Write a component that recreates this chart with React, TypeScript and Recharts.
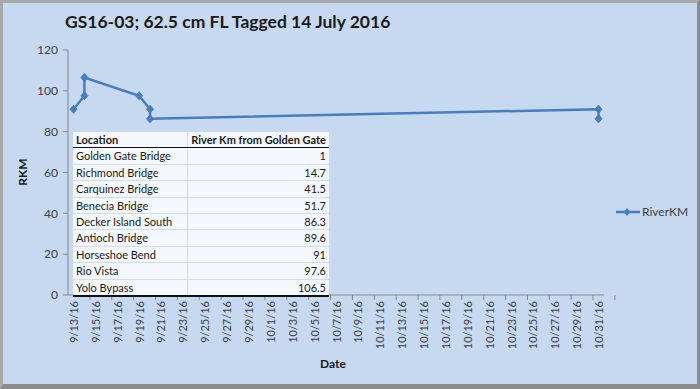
import React from 'react';
import { LineChart, Line, XAxis, YAxis } from 'recharts';

const dates = ['9/13/16', '9/14/16', '9/14/16', '9/19/16', '9/20/16', '9/20/16', '10/31/16', '10/31/16'];
const riverKm = [91, 97.6, 106.5, 97.6, 91, 86.3, 91, 86.3];

const tickLabels = [
  '9/13/16', '9/15/16', '9/17/16', '9/19/16', '9/21/16', '9/23/16', '9/25/16', '9/27/16',
  '9/29/16', '10/1/16', '10/3/16', '10/5/16', '10/7/16', '10/9/16', '10/11/16', '10/13/16',
  '10/15/16', '10/17/16', '10/19/16', '10/21/16', '10/23/16', '10/25/16', '10/27/16',
  '10/29/16', '10/31/16',
];

const locations = [
  'Golden Gate Bridge', 'Richmond Bridge', 'Carquinez Bridge', 'Benecia Bridge',
  'Decker Island South', 'Antioch Bridge', 'Horseshoe Bend', 'Rio Vista', 'Yolo Bypass',
];
const locationKm = ['1', '14.7', '41.5', '51.7', '86.3', '89.6', '91', '97.6', '106.5'];

const yTicks = [0, 20, 40, 60, 80, 100, 120];

const toDay = (s: string) => {
  const [m, d, y] = s.split('/').map(Number);
  const start = Date.UTC(2016, 8, 13);
  return Math.round((Date.UTC(2000 + y, m - 1, d) - start) / 86400000);
};

const data = dates.map((d, i) => ({ day: toDay(d), RiverKM: riverKm[i] }));
const labelDays = tickLabels.map(toDay);
const lastDay = labelDays[labelDays.length - 1];
const markDays: number[] = [];
for (let k = 1; k <= labelDays.length; k++) markDays.push(-0.5 + 2 * k);
const allTicks = [...labelDays, ...markDays].sort((a, b) => a - b);

const BLUE = '#4a7ebb';
const FONT = 'Lato, "Open Sans", sans-serif';

const Diamond = (props: any) => {
  const { cx, cy } = props;
  if (cx == null || cy == null) return null;
  return <polygon points={`${cx},${cy - 4} ${cx + 3.5},${cy} ${cx},${cy + 4} ${cx - 3.5},${cy}`} fill={BLUE} stroke={BLUE} />;
};

const DateTick = (props: any) => {
  const { x, y, payload } = props;
  const v = payload.value;
  const idx = labelDays.indexOf(v);
  if (idx < 0) {
    return <line x1={x} x2={x} y1={y} y2={y + 5} stroke="#868686" />;
  }
  return (
    <text
      x={x}
      y={y + 6}
      transform={`rotate(-90, ${x}, ${y + 6})`}
      textAnchor="end"
      dominantBaseline="central"
      fontSize={11}
      fontFamily={FONT}
      fill="#404040"
    >
      {tickLabels[idx]}
    </text>
  );
};

const cell: React.CSSProperties = {
  padding: '0 3px',
  height: 15.4,
  lineHeight: '15.4px',
  borderBottom: '1px solid #d0dcea',
  whiteSpace: 'nowrap',
};

export default function App() {
  return (
    <div
      style={{
        position: 'fixed',
        left: 0,
        top: 0,
        width: 700,
        height: 389,
        boxSizing: 'border-box',
        background: '#c6d9f0',
        borderLeft: '3px solid #a9a9a9',
        borderTop: '3px solid #a9a9a9',
        borderRight: '3px solid #8c8c8c',
        borderBottom: '5px solid #8c8c8c',
        overflow: 'hidden',
      }}
    >
      <div style={{ position: 'absolute', left: -3, top: -3 }}>
        <LineChart width={700} height={389} data={data} margin={{ top: 50, right: 96, bottom: 34, left: 0 }}>
          <XAxis
            dataKey="day"
            type="number"
            domain={[-0.5, lastDay + 0.5]}
            ticks={allTicks}
            interval={0}
            tickLine={false}
            tickSize={0}
            tickMargin={0}
            tick={<DateTick />}
            height={60}
            stroke="#868686"
            allowDataOverflow
          />
          <YAxis
            type="number"
            domain={[0, 120]}
            ticks={yTicks}
            width={68}
            tickSize={5}
            tickMargin={5}
            stroke="#868686"
            tick={{ fill: '#404040', fontSize: 12, fontFamily: FONT }}
          />
          <Line
            type="linear"
            dataKey="RiverKM"
            stroke={BLUE}
            strokeWidth={2.5}
            dot={<Diamond />}
            isAnimationActive={false}
          />
        </LineChart>
      </div>
      <div
        style={{
          position: 'absolute',
          left: 613,
          top: 201,
          display: 'flex',
          alignItems: 'center',
          fontFamily: FONT,
          fontSize: 12,
          color: '#404040',
        }}
      >
        <svg width={24} height={10}>
          <line x1={0} x2={24} y1={5} y2={5} stroke={BLUE} strokeWidth={2.5} />
          <polygon points="11,1 14.5,5 11,9 7.5,5" fill={BLUE} />
        </svg>
        <span style={{ marginLeft: 2 }}>RiverKM</span>
      </div>
      <div style={{ position: 'absolute', left: 62, top: 8, fontFamily: FONT, fontWeight: 700, fontSize: 17.5, color: '#1a1a1a' }}>
        GS16-03; 62.5 cm FL Tagged 14 July 2016
      </div>
      <div
        style={{
          position: 'absolute',
          left: 19,
          top: 169,
          transform: 'translate(-50%, -50%) rotate(-90deg)',
          fontFamily: FONT,
          fontWeight: 700,
          fontSize: 12,
          color: '#1a1a1a',
        }}
      >
        RKM
      </div>
      <div style={{ position: 'absolute', left: 317, top: 353, fontFamily: FONT, fontWeight: 700, fontSize: 12, color: '#1a1a1a' }}>
        Date
      </div>
      <table
        style={{
          position: 'absolute',
          left: 70,
          top: 129,
          width: 256,
          borderCollapse: 'collapse',
          background: '#f4f8fc',
          fontFamily: FONT,
          fontSize: 11,
          color: '#1a1a1a',
          borderBottom: '2px solid #111',
        }}
      >
        <thead>
          <tr>
            <th style={{ ...cell, textAlign: 'left', width: 109, borderRight: '1px solid #d0dcea', borderBottom: '1px solid #111' }}>Location</th>
            <th style={{ ...cell, textAlign: 'right', borderBottom: '1px solid #111' }}>River Km from Golden Gate</th>
          </tr>
        </thead>
        <tbody>
          {locations.map((loc, i) => (
            <tr key={loc}>
              <td style={{ ...cell, borderRight: '1px solid #d0dcea' }}>{loc}</td>
              <td style={{ ...cell, textAlign: 'right' }}>{locationKm[i]}</td>
            </tr>
          ))}
        </tbody>
      </table>
    </div>
  );
}
